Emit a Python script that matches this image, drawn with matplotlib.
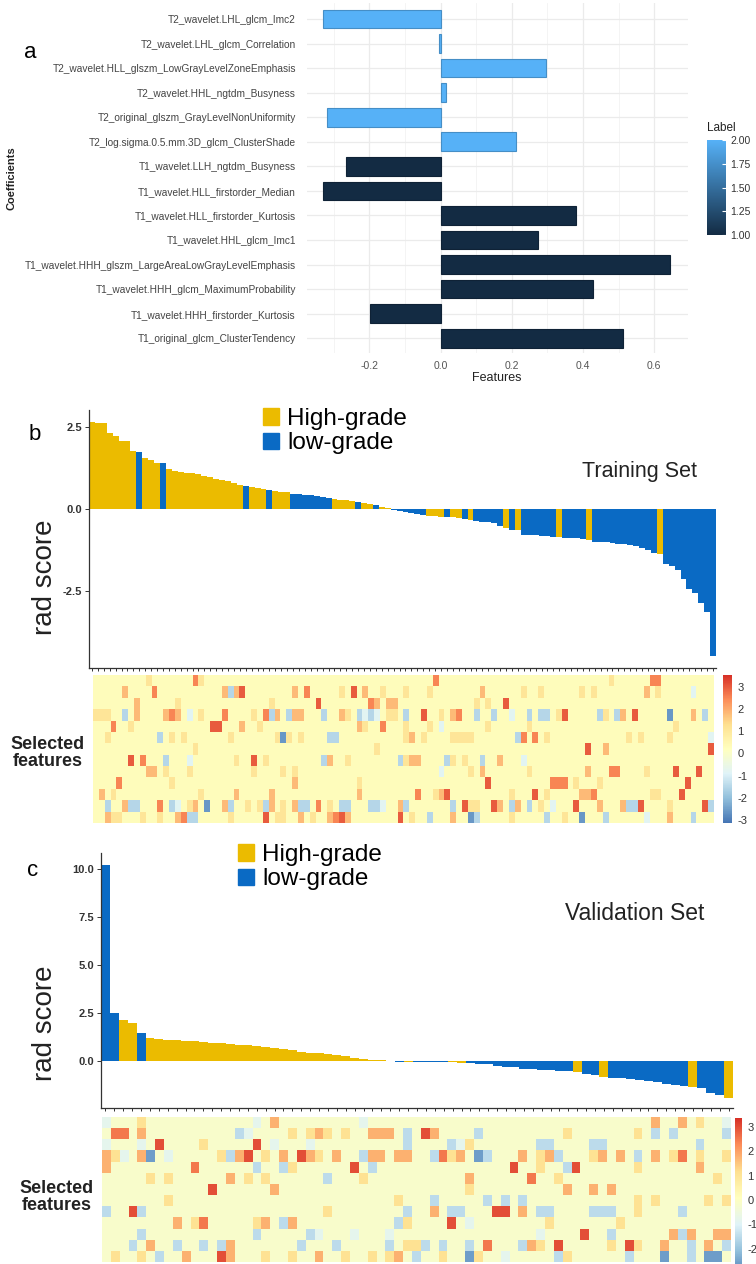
import numpy as np
import matplotlib.pyplot as plt
from matplotlib.colors import LinearSegmentedColormap, Normalize
from matplotlib.cm import ScalarMappable
from matplotlib.patches import Patch

plt.rcParams['font.family'] = ['Liberation Sans', 'DejaVu Sans']

# ---- panel a: LASSO coefficients (top to bottom) ----
features = [
    "T2_wavelet.LHL_glcm_Imc2",
    "T2_wavelet.LHL_glcm_Correlation",
    "T2_wavelet.HLL_glszm_LowGrayLevelZoneEmphasis",
    "T2_wavelet.HHL_ngtdm_Busyness",
    "T2_original_glszm_GrayLevelNonUniformity",
    "T2_log.sigma.0.5.mm.3D_glcm_ClusterShade",
    "T1_wavelet.LLH_ngtdm_Busyness",
    "T1_wavelet.HLL_firstorder_Median",
    "T1_wavelet.HLL_firstorder_Kurtosis",
    "T1_wavelet.HHL_glcm_Imc1",
    "T1_wavelet.HHH_glszm_LargeAreaLowGrayLevelEmphasis",
    "T1_wavelet.HHH_glcm_MaximumProbability",
    "T1_wavelet.HHH_firstorder_Kurtosis",
    "T1_original_glcm_ClusterTendency",
]
coefs = [-0.329, -0.004, 0.296, 0.015, -0.319, 0.211, -0.266,
         -0.329, 0.381, 0.274, 0.645, 0.428, -0.197, 0.512]
feature_label = [2, 2, 2, 2, 2, 2, 1, 1, 1, 1, 1, 1, 1, 1]

# ---- panel b: training set rad scores (sorted) ----
train_score = [
    2.66, 2.63, 2.62, 2.33, 2.23, 2.09, 2.07, 1.77, 1.74, 1.57, 1.50, 1.42, 1.40,
    1.22, 1.17, 1.13, 1.11, 1.10, 1.07, 1.02, 0.97, 0.92, 0.90, 0.85, 0.80, 0.75,
    0.69, 0.66, 0.64, 0.62, 0.59, 0.55, 0.53, 0.52,
    0.46, 0.45, 0.43, 0.42, 0.40, 0.37, 0.34, 0.30, 0.29, 0.27, 0.25, 0.22,
    0.18, 0.15, 0.12, 0.07, 0.03,
    -0.03, -0.06, -0.08, -0.11, -0.15, -0.19, -0.21, -0.22, -0.23, -0.24,
    -0.25, -0.27, -0.30, -0.32, -0.36, -0.38, -0.40, -0.43, -0.50,
    -0.58, -0.63, -0.65, -0.78, -0.79, -0.80, -0.81, -0.82, -0.84, -0.86,
    -0.87, -0.88, -0.89, -0.91, -0.93,
    -0.99, -1.00, -1.01, -1.03, -1.05, -1.07, -1.10, -1.13, -1.17, -1.23, -1.33,
    -1.36, -1.66, -1.74, -1.84, -2.13, -2.43, -2.57, -2.86, -3.14, -4.48,
]
train_grade_runs = [("H", 8), ("L", 1), ("H", 3), ("L", 1), ("H", 13), ("L", 1),
                    ("H", 3), ("L", 1), ("H", 3), ("L", 7), ("H", 4), ("L", 1),
                    ("H", 2), ("L", 1), ("H", 2), ("L", 6), ("H", 3), ("L", 1),
                    ("H", 2), ("L", 1), ("H", 1), ("L", 5), ("H", 1), ("L", 1),
                    ("H", 1), ("L", 6), ("H", 1), ("L", 4), ("H", 1), ("L", 11),
                    ("H", 1), ("L", 9)]

# ---- panel c: validation set rad scores (sorted) ----
valid_score = [
    10.2, 2.48, 2.15, 1.96, 1.48, 1.18,
    1.12, 1.09, 1.07, 1.05, 1.02, 0.99, 0.95, 0.92, 0.88, 0.85, 0.81, 0.78, 0.75,
    0.70, 0.62, 0.55, 0.47, 0.43, 0.40, 0.36, 0.30, 0.24, 0.15, 0.08, 0.05,
    0.03, 0.02, -0.03, -0.03, -0.04, -0.05, -0.05, -0.06, -0.08, -0.09,
    -0.11, -0.14, -0.18, -0.27, -0.29, -0.31,
    -0.40, -0.42, -0.45, -0.48, -0.50, -0.53, -0.57, -0.68, -0.72, -0.86,
    -0.88, -0.90, -0.93, -0.97, -1.02, -1.12, -1.18, -1.25, -1.30,
    -1.38, -1.42, -1.65, -1.75, -1.92,
]
valid_grade_runs = [("L", 2), ("H", 2), ("L", 1), ("H", 28), ("L", 1), ("H", 1),
                    ("L", 4), ("H", 2), ("L", 12), ("H", 1), ("L", 2), ("H", 1),
                    ("L", 9), ("H", 1), ("L", 3), ("H", 1)]

# ---- heatmaps of selected features (column = patient, code = z-score level) ----
heat_codes = {'R': 3.0, 'r': 2.5, 'o': 1.8, 'y': 1.1, '.': 0.3,
              '-': -0.8, 'b': -1.5, 'B': -2.6}
train_heat_bg = 0.3
train_heat_marks = [
    "9y 17r 18y 58r 88y 95r 96r",
    "5o 10r 22o 23b 24o 25R 34o 36r 42y 44R 46o 49y 53y 57y 66o 73y 76y 83y 85y 94o 96y 102-",
    "7o 14y 30y 38R 47r 48o 50o 51o 65y 67y 70R",
    "0y 1y 2y 5b 7o 12o 13r 14o 16- 18y 22r 27y 29r 30b 31o 33b 34o 35o 39b 42o 43y 45b 46- "
    "47b 48- 50y 51y 53b 56R 59y 61o 62r 65b 68b 71- 74b 76b 77b 79y 80R 86b 87y 89b 90o 92R "
    "98B 102o 104b",
    "3r 6y 20R 21R 25o 28y 45o 46y 49r 53y 57y 59- 67y 74y 99y",
    "2y 11b 13y 15y 23y 31y 32B 33y 35y 40b 41b 53y 54o 56y 61y 62y 63y 64y 72b 73r 75r 77y "
    "91y 93y 98y 105-",
    "17y 48y 84R 87o 105R",
    "6R 8r 12b 16- 24y 27R 29y 39b 40o 43y 52b 53y 54o 55o 60b 61y 63y 66b 69o 73-",
    "9o 10o 12y 16y 27y 32y 34y 59- 64y 66o 74y 84o 88r 89r 94y 99R 103R",
    "4r 13y 34o 45y 67R 78r 79r 80r 82y 86y 101R",
    "1o 3y 18y 24o 30o 45o 55r 58y 59o 60R 71y 75R 77y 83o 84o 85r 95y 96y 100R",
    "2b 5o 6b 7b 11r 13b 14- 16y 17o 19B 22o 23b 26y 28y 29b 30o 32y 34o 35b 36b 38r 40y "
    "42b 43b 47b 48b 49- 52o 53b 61b 63R 64y 65y 68R 69o 71b 72o 74b 76y 78- 82R 86o 90o "
    "91b 92b 93R 98y 104R 105b",
    "2o 3y 4y 8y 11y 14o 15r 16b 17b 23y 29R 31y 32y 35o 37y 40o 41r 42R 43o 52R 54y 57b "
    "61o 64B 65b 71y 77b 80y 83B 87b 94- 98o 102b",
]
valid_heat_bg = -0.15
valid_heat_marks = [
    "0- 4y 17- 19o 29- 62o 65o 67y 70-",
    "1r 2r 4o 15b 16- 21y 23y 24o 25y 27y 30o 31o 32o 34b 36R 37o 42b 52y 60y 62b 64b 70b",
    "0- 4- 6R 11y 17R 19- 23- 34b 39b 40- 41y 49b 50b 55b 56b 67b",
    "0o 1y 2- 4o 5B 7- 13y 14b 15o 16R 18y 20o 22R 23o 24y 26o 29b 30o 31o 33o 34o 37b 38r "
    "39y 40o 42B 43b 47o 49y 50o 51b 55y 56o 58o 60b 62o 64y 65r 67y 70y",
    "0o 10r 17b 20b 21y 28R 30b 46R 49y 52b 53R 60y 67o",
    "5y 7y 14o 16y 18y 25b 29y 41o 48r 51y 69y",
    "12R 19o 41y 52o 55o 57o",
    "7y 33y 37b 43b 45b 47b 60y 62y 68y 70y",
    "0b 3R 4b 25y 34b 37o 39b 40b 44R 45R 47o 49b 50b 55b 56b 57b 60y 65b",
    "8o 10y 11r 17y 18o 20b 21o 33b 34y 39R 41- 50y 58y",
    "4b 17b 23b 24- 28- 32- 49- 54R 57b 64o 65b 66o 69o 70o",
    "3b 5o 8b 11b 13b 14o 22b 26b 32b 34y 35y 36b 38b 41b 43r 47b 48o 49y 51R 57y 59R 60y "
    "63o 66b 68o 70b",
    "1y 4y 6b 9o 13R 14o 18y 21y 24o 27y 30y 32y 33o 35b 38y 41B 42y 45- 51b 52y 59b 63B "
    "66b 68B 69B",
]

high_color = "#EBBB00"
low_color = "#0A6AC4"
heat_cmap = LinearSegmentedColormap.from_list(
    "rdylbu7", ["#4575B4", "#91BFDB", "#E0F3F8", "#FFFFBF", "#FEE090", "#FC8D59", "#D73027"])
label_cmap = LinearSegmentedColormap.from_list("gg", ["#132B43", "#56B1F7"])

W, H = 756, 1264
fig = plt.figure(figsize=(W / 100, H / 100), dpi=100)


def px_axes(x0, y0, x1, y1):
    return fig.add_axes([x0 / W, 1 - y1 / H, (x1 - x0) / W, (y1 - y0) / H])


def fig_text(x, y, s, **kw):
    fig.text(x / W, 1 - y / H, s, **kw)


def heat_matrix(marks, ncol, bg):
    m = np.full((len(marks), ncol), bg)
    for r, row in enumerate(marks):
        for tok in row.split():
            m[r, int(tok[:-1])] = heat_codes[tok[-1]]
    return m


# ---------------- panel a ----------------
ax = px_axes(307, 3, 688, 353)
n = len(features)
ypos = np.arange(n)[::-1]
norm_a = Normalize(1, 2)
bar_cols = [label_cmap(norm_a(v)) for v in feature_label]
edge_cols = [tuple(c * 0.8 for c in col[:3]) for col in bar_cols]
ax.barh(ypos, coefs, height=0.76, color=bar_cols, edgecolor=edge_cols, linewidth=0.8, zorder=3)
ax.set_yticks(ypos)
ax.set_yticklabels(features, fontsize=7.3, color="#444444")
ax.set_xlim(-0.375, 0.695)
ax.set_ylim(-0.6, n - 0.35)
ax.set_xticks([-0.2, 0.0, 0.2, 0.4, 0.6])
ax.set_xticklabels(["-0.2", "0.0", "0.2", "0.4", "0.6"], fontsize=7.5, color="#555555")
ax.set_xticks([-0.3, -0.1, 0.1, 0.3, 0.5], minor=True)
ax.grid(which="major", color="#EBEBEB", linewidth=0.9, zorder=0)
ax.grid(which="minor", axis="x", color="#F3F3F3", linewidth=0.6, zorder=0)
ax.tick_params(which="both", length=0)
ax.tick_params(axis="y", pad=8)
ax.tick_params(axis="x", pad=6)
for s in ax.spines.values():
    s.set_visible(False)
fig_text(497, 378, "Features", fontsize=9, ha="center", va="center", color="#222222")
fig_text(12, 178, "Coefficients", fontsize=8, rotation=90, ha="center", va="center",
         color="#222222", fontweight="bold")
fig_text(30, 52, "a", fontsize=16, ha="center", va="center")

cax = px_axes(707, 140, 726, 235)
cb = fig.colorbar(ScalarMappable(norm_a, label_cmap), cax=cax, ticks=[1, 1.25, 1.5, 1.75, 2])
cb.ax.set_yticklabels(["1.00", "1.25", "1.50", "1.75", "2.00"], fontsize=7.5, color="#333333")
cb.outline.set_visible(False)
cb.ax.tick_params(length=3, width=0.8, color="white", direction="in", pad=3)
fig_text(707, 128, "Label", fontsize=8.5, ha="left", va="center", color="#222222")


# ---------------- panels b and c ----------------
def score_panel(box, scores, runs, ylim, yticks, title, title_xy, title_size, legend_xy, ylabel_xy):
    grades = "".join(g * k for g, k in runs)
    x = np.arange(len(scores))
    cols = [high_color if g == "H" else low_color for g in grades]
    ax = px_axes(*box)
    ax.bar(x, scores, width=1.0, color=cols, linewidth=0)
    ax.set_xlim(-0.5, len(scores) - 0.5)
    ax.set_ylim(*ylim)
    ax.set_yticks(yticks)
    ax.set_yticklabels([f"{t:.1f}" for t in yticks], fontsize=8, fontweight="bold", color="#333333")
    ax.set_xticks(x)
    ax.tick_params(axis="x", length=2.5, width=0.7, labelbottom=False, color="#333333")
    ax.tick_params(axis="y", length=3, width=0.7, pad=2, color="#333333")
    for s in ["top", "right"]:
        ax.spines[s].set_visible(False)
    for s in ["left", "bottom"]:
        ax.spines[s].set_linewidth(0.9)
        ax.spines[s].set_color("#333333")
    handles = [Patch(color=high_color), Patch(color=low_color)]
    ax.legend(handles, ["High-grade", "low-grade"], loc="upper left",
              bbox_to_anchor=(legend_xy[0] / W, 1 - legend_xy[1] / H),
              bbox_transform=fig.transFigure, frameon=False, fontsize=17.5,
              handlelength=0.65, handleheight=0.65, handletextpad=0.35,
              labelspacing=0.1, borderpad=0, borderaxespad=0)
    fig_text(*title_xy, title, fontsize=title_size, ha="center", va="center", color="#222222")
    fig_text(*ylabel_xy, "rad score", fontsize=20, rotation=90, ha="center", va="center",
             color="#222222")


def heat_panel(box, cbox, marks, ncol, bg, vmin, vmax, ticks, label_xy):
    ax = px_axes(*box)
    m = heat_matrix(marks, ncol, bg)
    ax.imshow(m, cmap=heat_cmap, vmin=vmin, vmax=vmax, aspect="auto", interpolation="nearest")
    ax.set_xticks([])
    ax.set_yticks([])
    for s in ax.spines.values():
        s.set_visible(False)
    cax = px_axes(*cbox)
    cb = fig.colorbar(ScalarMappable(Normalize(vmin, vmax), heat_cmap), cax=cax, ticks=ticks)
    cb.outline.set_visible(False)
    cb.ax.set_yticklabels([str(t) for t in ticks], fontsize=8, color="#333333")
    cb.ax.tick_params(length=0, pad=4)
    fig_text(*label_xy, "Selected\nfeatures", fontsize=13, fontweight="bold", ha="center",
             va="center", linespacing=1.05, color="#222222")


score_panel((89, 410, 716, 668), train_score, train_grade_runs, (-4.84, 3.02), [-2.5, 0.0, 2.5],
            "Training Set", (639, 472), 15.5, (263, 408), (45, 577))
fig_text(35, 435, "b", fontsize=16, ha="center", va="center")
heat_panel((92.7, 675, 713, 823), (723, 675, 732, 823), train_heat_marks, len(train_score),
           train_heat_bg, -3.14, 3.54, [-3, -2, -1, 0, 1, 2, 3], (48, 753))

score_panel((101, 853, 733, 1108), valid_score, valid_grade_runs, (-2.45, 10.83),
            [0.0, 2.5, 5.0, 7.5, 10.0], "Validation Set", (635, 913), 16.5, (238, 844), (45, 1023))
fig_text(33, 870, "c", fontsize=16, ha="center", va="center")
heat_panel((101.7, 1117, 730.7, 1262), (735, 1118, 742, 1278), valid_heat_marks, len(valid_score),
           valid_heat_bg, -3.2, 3.37, [-2, -1, 0, 1, 2, 3], (57, 1197))

fig.savefig("out.png", dpi=100)
